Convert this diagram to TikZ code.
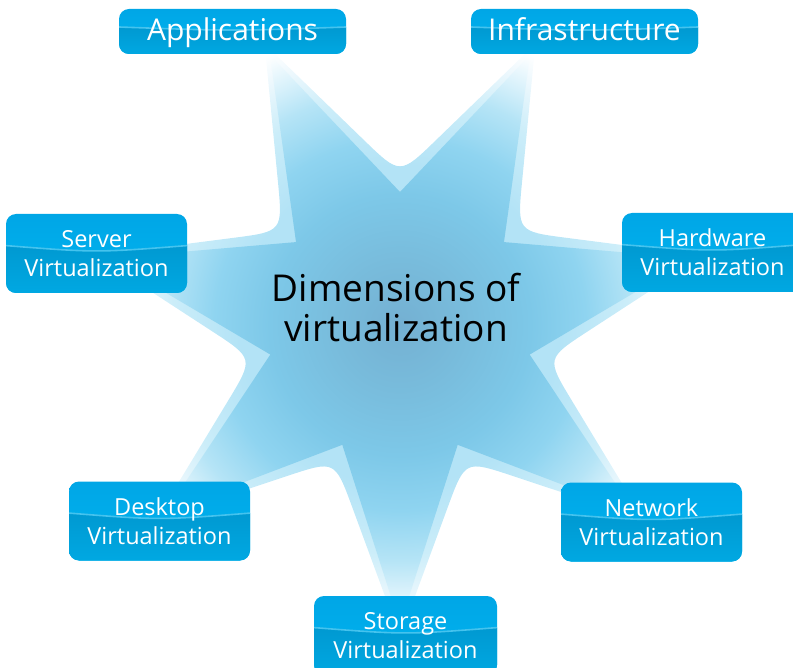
\documentclass[tikz,border=0pt]{standalone}
\usepackage{fontspec}
\setmainfont{Open Sans}
\usetikzlibrary{calc}
\definecolor{st0}{HTML}{74B0D2}
\definecolor{st1}{HTML}{78BBDB}
\definecolor{st2}{HTML}{7DC8E8}
\definecolor{st3}{HTML}{8FD4F0}
\definecolor{st4}{HTML}{B5E4F6}
\definecolor{st5}{HTML}{D8F1FB}
\definecolor{ha0}{HTML}{B3E3F6}
\definecolor{ha1}{HTML}{CBEDF9}
\definecolor{ha2}{HTML}{EDF8FD}
\definecolor{boxtop}{HTML}{00A6E6}
\definecolor{boxmid}{HTML}{00B5F0}
\definecolor{boxlowA}{HTML}{008FC6}
\definecolor{boxlowB}{HTML}{00A8E2}
\definecolor{boxhl}{HTML}{45C3EE}
% TikZ maps 25bp of a radial shading to the half width of the shaded path (320pt here)
\pgfdeclareradialshading{innerstar}{\pgfpoint{0bp}{0bp}}{color(0bp)=(st0); color(4.7bp)=(st1); color(10.2bp)=(st2); color(14.5bp)=(st3); color(18.4bp)=(st4); color(20.7bp)=(st5); color(23.4bp)=(white); color(50bp)=(white)}
\pgfdeclareradialshading{halostar}{\pgfpoint{0bp}{0bp}}{color(0bp)=(ha0); color(12.5bp)=(ha0); color(17.8bp)=(ha1); color(21.5bp)=(ha2); color(23.5bp)=(white); color(50bp)=(white)}
\tikzset{
  glossbox/.style={rounded corners=10pt, inner sep=0pt, text=white, align=center,
    top color=boxtop, bottom color=boxmid,
    path picture={
      \shade[sharp corners, top color=boxlowA, bottom color=boxlowB]
        ($(path picture bounding box.north west)!0.40!(path picture bounding box.south west)$)
        .. controls ($(path picture bounding box.north)!0.49!(path picture bounding box.south)$) ..
        ($(path picture bounding box.north east)!0.40!(path picture bounding box.south east)$)
        -- (path picture bounding box.south east) -- (path picture bounding box.south west) -- cycle;
      \draw[sharp corners, boxhl, line width=1.6pt]
        ($(path picture bounding box.north west)!0.40!(path picture bounding box.south west)$)
        .. controls ($(path picture bounding box.north)!0.49!(path picture bounding box.south)$) ..
        ($(path picture bounding box.north east)!0.40!(path picture bounding box.south east)$);
    }},
  twoline/.style={glossbox, minimum width=181pt, minimum height=79pt, font=\fontsize{23.5}{29}\selectfont},
  oneline/.style={glossbox, minimum width=227pt, minimum height=45pt, text height=23pt, text depth=4.5pt, font=\fontsize{30}{34}\selectfont},
  titletext/.style={font=\fontsize{37}{40}\selectfont, align=center, text=black, inner sep=0pt}
}
\begin{document}
\begin{tikzpicture}[x=1pt,y=-1pt]
\useasboundingbox (0,0) rectangle (793,668);
\clip (0,0) rectangle (793,668);
\coordinate (C) at (400,325);
\foreach \k in {0,...,6}{
  \coordinate (T\k) at ($(C)+({90+\k*360/7}:300)$);
  \coordinate (V\k) at ($(C)+({90+180/7+\k*360/7}:133)$);
  \coordinate (HT\k) at ($(C)+({90+\k*360/7}:312)$);
  \coordinate (HV\k) at ($(C)+({90+180/7+\k*360/7}:150)$);
}
\foreach \k in {0,...,6}{
  \pgfmathtruncatemacro\kn{mod(\k+1,7)}
  \coordinate (HA\k) at ($(HV\k)!50pt!(HT\k)$);
  \coordinate (HB\k) at ($(HV\k)!50pt!(HT\kn)$);
}
% halo star
\begin{scope}
\clip (HT0) -- (HA0) .. controls (HV0) .. (HB0) -- (HT1)
  -- (HA1) .. controls (HV1) .. (HB1) -- (HT2)
  -- (HA2) .. controls (HV2) .. (HB2) -- (HT3)
  -- (HA3) .. controls (HV3) .. (HB3) -- (HT4)
  -- (HA4) .. controls (HV4) .. (HB4) -- (HT5)
  -- (HA5) .. controls (HV5) .. (HB5) -- (HT6)
  -- (HA6) .. controls (HV6) .. (HB6) -- cycle;
\shade[shading=halostar] (C) circle (320pt);
\end{scope}
% inner star
\begin{scope}
\clip (T0) -- (V0) -- (T1) -- (V1) -- (T2) -- (V2) -- (T3) -- (V3) -- (T4) -- (V4) -- (T5) -- (V5) -- (T6) -- (V6) -- cycle;
\shade[shading=innerstar] (C) circle (320pt);
\end{scope}
\node[titletext] (title) at (396,308) {Dimensions of\\virtualization};
\node[oneline] (apps) at (232.5,31.5) {Applications};
\node[oneline] (infra) at (584.5,31.5) {Infrastructure};
\node[twoline] (server) at (96.5,253.5) {Server\\Virtualization};
\node[twoline] (hardware) at (712.5,252.5) {Hardware\\Virtualization};
\node[twoline] (desktop) at (159.5,521) {Desktop\\Virtualization};
\node[twoline] (network) at (651.5,522) {Network\\Virtualization};
\node[twoline, minimum width=183pt] (storage) at (405.5,635.5) {Storage\\Virtualization};
\end{tikzpicture}
\end{document}
